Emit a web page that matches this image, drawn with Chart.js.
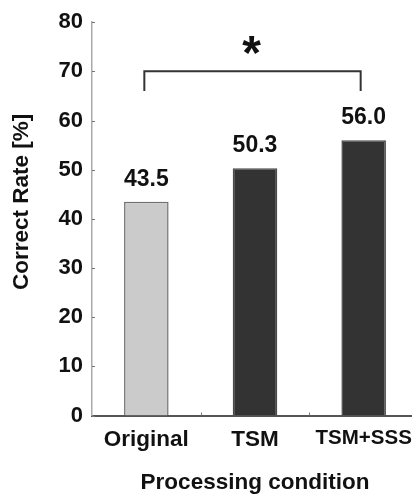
<!DOCTYPE html>
<html>
<head>
<meta charset="utf-8">
<script src="https://cdn.jsdelivr.net/npm/chart.js@4.4.1/dist/chart.umd.min.js"></script>
<style>
  html, body { margin: 0; padding: 0; background: #fff; overflow: hidden; }
  #wrap { width: 430px; height: 499px; }
</style>
</head>
<body>
<div id="wrap"><canvas id="rateChart" width="430" height="499"></canvas></div>
<script>
const conditions = ["Original", "TSM", "TSM+SSS"];
const correctRates = [43.5, 50.3, 56.0];
const barColors = ["#cbcbcb", "#333333", "#333333"];
const yTicks = [0, 10, 20, 30, 40, 50, 60, 70, 80];
const yTitle = "Correct Rate [%]";
const xTitle = "Processing condition";

// significance bracket: from Original to TSM+SSS at 70 %
const bracketPair = [0, 2];
const bracketLevel = 70;
const bracketFoot = 66;
const bracketMark = "*";

const FONT = "'Liberation Sans', Arial, sans-serif";

const valueLabels = {
    id: "valueLabels",
    afterDatasetsDraw(chart) {
        const ctx = chart.ctx;
        const meta = chart.getDatasetMeta(0);
        ctx.save();
        ctx.fillStyle = "#111";
        ctx.font = "bold 23px " + FONT;
        ctx.textAlign = "center";
        ctx.textBaseline = "alphabetic";
        meta.data.forEach((bar, i) => {
            ctx.fillText(correctRates[i].toFixed(1), bar.x, bar.y - 16);
        });
        ctx.restore();
    }
};

const bracket = {
    id: "bracket",
    afterDatasetsDraw(chart) {
        const ctx = chart.ctx;
        const x = chart.scales.x;
        const y = chart.scales.y;
        const x1 = x.getPixelForValue(bracketPair[0]) - 2;
        const x2 = x.getPixelForValue(bracketPair[1]) - 3;
        const top = y.getPixelForValue(bracketLevel);
        const foot = y.getPixelForValue(bracketFoot);
        ctx.save();
        ctx.strokeStyle = "#333";
        ctx.lineWidth = 2;
        ctx.beginPath();
        ctx.moveTo(x1, foot);
        ctx.lineTo(x1, top);
        ctx.lineTo(x2, top);
        ctx.lineTo(x2, foot);
        ctx.stroke();
        ctx.fillStyle = "#111";
        ctx.font = "bold 48px " + FONT;
        ctx.textAlign = "center";
        ctx.textBaseline = "alphabetic";
        ctx.fillText(bracketMark, (x1 + x2) / 2 - 1, top - 2);
        ctx.restore();
    }
};

// y title drawn by hand so it can sit a bit above the plot centre
const yTitleText = {
    id: "yTitleText",
    afterDraw(chart) {
        const ctx = chart.ctx;
        const y = chart.scales.y;
        ctx.save();
        ctx.translate(22, (y.top + y.bottom) / 2 - 17);
        ctx.rotate(-Math.PI / 2);
        ctx.fillStyle = "#111";
        ctx.font = "bold 22.5px " + FONT;
        ctx.textAlign = "center";
        ctx.textBaseline = "middle";
        ctx.fillText(yTitle, 0, 0);
        ctx.restore();
    }
};

// small tick marks pointing into the plot
const innerTicks = {
    id: "innerTicks",
    afterDraw(chart) {
        const ctx = chart.ctx;
        const x = chart.scales.x;
        const y = chart.scales.y;
        ctx.save();
        ctx.strokeStyle = "#777";
        ctx.lineWidth = 1;
        ctx.beginPath();
        yTicks.forEach(v => {
            const py = Math.round(y.getPixelForValue(v)) + 0.5;
            ctx.moveTo(y.right, py);
            ctx.lineTo(y.right + 3, py);
        });
        for (let i = 1; i < conditions.length; i++) {
            const px = Math.round((x.getPixelForValue(i - 1) + x.getPixelForValue(i)) / 2) + 0.5;
            ctx.moveTo(px, x.top);
            ctx.lineTo(px, x.top - 3);
        }
        ctx.stroke();
        ctx.restore();
    }
};

new Chart(document.getElementById("rateChart").getContext("2d"), {
    type: "bar",
    data: {
        labels: conditions,
        datasets: [{
            data: correctRates,
            backgroundColor: barColors,
            borderColor: ["#6f6f6f", "#4a4a4a", "#4a4a4a"],
            borderWidth: 1.5,
            barPercentage: 1,
            categoryPercentage: 0.41
        }]
    },
    options: {
        responsive: false,
        animation: false,
        layout: { padding: { top: 20, left: 0, right: 12, bottom: 0 } },
        plugins: { legend: { display: false }, tooltip: { enabled: false } },
        scales: {
            x: {
                grid: { display: false, drawTicks: false },
                border: { color: "#555", width: 2 },
                ticks: {
                    color: "#111",
                    font: c => ({ family: FONT, weight: "bold", size: c.index === 2 ? 20.5 : 22.5 }),
                    padding: 11,
                    maxRotation: 0
                },
                title: {
                    display: true,
                    text: xTitle,
                    color: "#111",
                    font: { family: FONT, weight: "bold", size: 22.5 },
                    padding: { top: 0, bottom: 3 }
                },
                afterFit(scale) { scale.height = 83.5; }
            },
            y: {
                min: 0,
                max: 80,
                afterBuildTicks(scale) { scale.ticks = yTicks.map(v => ({ value: v })); },
                grid: { display: false, drawTicks: false },
                border: { color: "#aaa", width: 1.5 },
                ticks: { color: "#111", font: { family: FONT, weight: "bold", size: 22 }, padding: 9 },
                title: { display: false },
                afterFit(scale) { scale.width = 92; }
            }
        }
    },
    plugins: [valueLabels, bracket, yTitleText, innerTicks]
});
</script>
</body>
</html>
